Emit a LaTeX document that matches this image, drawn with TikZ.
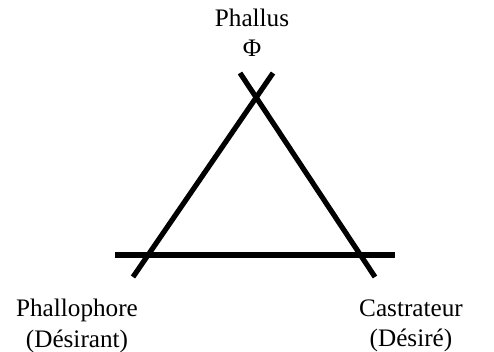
\documentclass[tikz,border=0pt]{standalone}
\usepackage{fontspec}
\setmainfont{Liberation Serif}
\usepackage{tikz}
\usetikzlibrary{positioning, calc}
\tikzset{
  % Thick stroke for the triangle sides
  bar/.style={line width=2.6pt, black},
  % Corner label
  tlabel/.style={
    align=center, inner sep=0pt,
    font=\fontsize{12.6}{15.2}\selectfont
  },
}
\begin{document}
\begin{tikzpicture}[x=0.5pt, y=-0.5pt]

  \useasboundingbox (0,0) rectangle (494,352);

  %% End points of the three strokes
  \coordinate (lbot) at (133,277);
  \coordinate (ltop) at (273,73);
  \coordinate (rtop) at (240,73);
  \coordinate (rbot) at (375,277);
  \coordinate (hleft) at (115,255);
  \coordinate (hright) at (395,255);

  %% Strokes
  \draw[bar] (lbot) -- (ltop);
  \draw[bar] (rtop) -- (rbot);
  \draw[bar] (hleft) -- (hright);

  %% Labels
  \node[tlabel] (phallus) at (252,33) {Phallus\\Φ};
  \node[tlabel] (phallophore) at (77,326) {Phallophore\\(Désirant)};
  \node[tlabel] (castrateur) at (411,326) {Castrateur\\(Désiré)};

\end{tikzpicture}
\end{document}
